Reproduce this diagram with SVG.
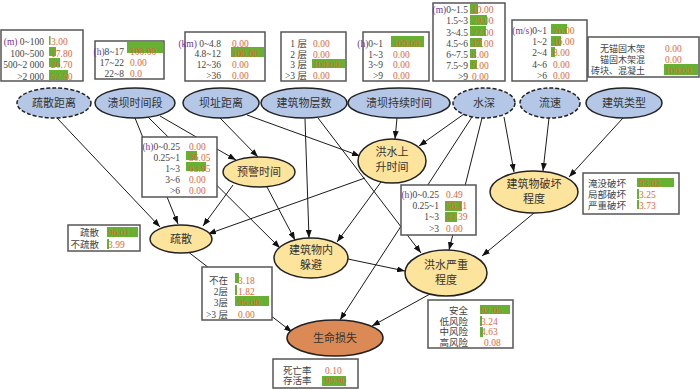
<svg xmlns="http://www.w3.org/2000/svg" width="700" height="390" viewBox="0 0 700 390">
<defs>
<marker id="arr" markerUnits="userSpaceOnUse" markerWidth="8" markerHeight="6" refX="8" refY="3" orient="auto"><path d="M0,0 L8,3 L0,6 z" fill="#111"/></marker>
<style>
.e line{stroke:#1a1a1a;stroke-width:1;marker-end:url(#arr)}
.bl{fill:#B4C7E7;stroke:#222;stroke-width:1.5}
.bd{fill:#B4C7E7;stroke:#222;stroke-width:1.5;stroke-dasharray:4 2}
.ye{fill:#FDE49C;stroke:#222;stroke-width:1.5}
.or{fill:#DC8A55;stroke:#222;stroke-width:1.5}
.nt{font-family:"Liberation Serif","Noto Sans CJK SC",serif;font-size:11px;fill:#333;text-anchor:middle}
.box{fill:#fff;stroke:#555;stroke-width:1.5}
.lb{font-family:"Liberation Serif","Noto Sans CJK SC",serif;font-size:9.5px;fill:#444}
.r{text-anchor:end}
.v{font-family:"Liberation Serif","Noto Sans CJK SC",serif;font-size:9.5px;fill:#E0683A}
.u{fill:#7030A0}
.g{fill:#66B032}
</style>
</defs>
<rect width="700" height="390" fill="#fff"/>
<g id="connectors" class="e">
<line x1="57" y1="118" x2="160" y2="227"/>
<line x1="135" y1="118" x2="178" y2="224"/>
<line x1="148" y1="117" x2="280" y2="248"/>
<line x1="160" y1="116" x2="236" y2="160"/>
<line x1="220" y1="118" x2="258" y2="157"/>
<line x1="247" y1="115" x2="360" y2="156"/>
<line x1="305" y1="119" x2="309" y2="238"/>
<line x1="318" y1="118" x2="421" y2="253"/>
<line x1="397" y1="118" x2="395" y2="139"/>
<line x1="464" y1="114" x2="419" y2="146"/>
<line x1="472" y1="117" x2="340" y2="320"/>
<line x1="482" y1="118" x2="449" y2="250"/>
<line x1="504" y1="117" x2="514" y2="172"/>
<line x1="549" y1="118" x2="543" y2="171"/>
<line x1="623" y1="118" x2="569" y2="177"/>
<line x1="365" y1="178" x2="208" y2="234"/>
<line x1="381" y1="182" x2="337" y2="242"/>
<line x1="233" y1="185" x2="203" y2="226"/>
<line x1="267" y1="187" x2="295" y2="240"/>
<line x1="534" y1="213" x2="482" y2="256"/>
<line x1="348" y1="259" x2="405" y2="271"/>
<line x1="187" y1="251" x2="292" y2="332"/>
<line x1="430" y1="294" x2="372" y2="326"/>
</g>
<g id="n_shusanjuli"><ellipse class="bd" cx="54" cy="103" rx="37" ry="15"/><text class="nt" x="54" y="107">疏散距离</text></g>
<g id="n_kuibashijianduan"><ellipse class="bl" cx="135" cy="103" rx="40" ry="15"/><text class="nt" x="135" y="107">溃坝时间段</text></g>
<g id="n_bazhijuli"><ellipse class="bl" cx="221" cy="103" rx="38" ry="15"/><text class="nt" x="221" y="107">坝址距离</text></g>
<g id="n_jianzhuwucengshu"><ellipse class="bl" cx="304" cy="103" rx="43" ry="15"/><text class="nt" x="304" y="107">建筑物层数</text></g>
<g id="n_kuibachixushijian"><ellipse class="bl" cx="399" cy="103" rx="51" ry="15"/><text class="nt" x="399" y="107">溃坝持续时间</text></g>
<g id="n_shuishen"><ellipse class="bd" cx="484" cy="103" rx="31" ry="15"/><text class="nt" x="484" y="107">水深</text></g>
<g id="n_liusu"><ellipse class="bd" cx="550" cy="103" rx="30" ry="15"/><text class="nt" x="550" y="107">流速</text></g>
<g id="n_jianzhuleixing"><ellipse class="bl" cx="624" cy="103" rx="38" ry="15"/><text class="nt" x="624" y="107">建筑类型</text></g>
<g id="n_yujingshijian"><ellipse class="ye" cx="259" cy="172" rx="36" ry="15"/><text class="nt" x="259" y="176">预警时间</text></g>
<g id="n_hongshuishangsheng"><ellipse class="ye" cx="392" cy="161" rx="34" ry="22"/><text class="nt" x="392" y="156">洪水上</text><text class="nt" x="392" y="171">升时间</text></g>
<g id="n_pohuai"><ellipse class="ye" cx="534" cy="192" rx="44" ry="21"/><text class="nt" x="534" y="188">建筑物破坏</text><text class="nt" x="534" y="203">程度</text></g>
<g id="n_shusan"><ellipse class="ye" cx="181" cy="239" rx="31" ry="14"/><text class="nt" x="181" y="243">疏散</text></g>
<g id="n_duobi"><ellipse class="ye" cx="311" cy="258" rx="37" ry="20"/><text class="nt" x="311" y="254">建筑物内</text><text class="nt" x="311" y="269">躲避</text></g>
<g id="n_yanzhong"><ellipse class="ye" cx="446" cy="273" rx="41" ry="23"/><text class="nt" x="446" y="269">洪水严重</text><text class="nt" x="446" y="284">程度</text></g>
<g id="n_shengming"><ellipse class="or" cx="335" cy="338" rx="48" ry="18"/><text class="nt" x="335" y="342">生命损失</text></g>
<g id="t_shusanjuli"><rect class="box" x="1" y="30" width="82" height="51"/>
<rect class="g" x="49" y="36" width="1.5" height="9"/><rect class="g" x="49" y="47" width="7" height="9"/><rect class="g" x="49" y="58" width="11" height="9"/><rect class="g" x="49" y="70" width="19" height="10"/>
<text class="lb r" x="44" y="45"><tspan class="u">(m)</tspan> 0~100</text><text class="lb r" x="44" y="56.5">100~500</text><text class="lb r" x="44" y="68">500~2 000</text><text class="lb r" x="44" y="79.5">&gt;2 000</text>
<text class="v" x="51" y="45">3.00</text><text class="v" x="51" y="56.5">17.80</text><text class="v" x="51" y="68">26.70</text><text class="v" x="51" y="79.5">52.50</text></g>
<g id="t_kuibashijianduan"><rect class="box" x="95" y="41" width="69" height="38"/>
<rect class="g" x="127" y="42" width="36" height="11"/>
<text class="lb r" x="124" y="55"><tspan class="u">(h)</tspan>8~17</text><text class="lb r" x="124" y="66">17~22</text><text class="lb r" x="124" y="77">22~8</text>
<text class="v" x="130" y="55">100.00</text><text class="v" x="130" y="66">0.00</text><text class="v" x="130" y="77">0.0</text></g>
<g id="t_bazhijuli"><rect class="box" x="185" y="32" width="80" height="49"/>
<rect class="g" x="231" y="47" width="33" height="10"/>
<text class="lb r" x="221" y="46.5"><tspan class="u">(km)</tspan> 0~4.8</text><text class="lb r" x="221" y="57">4.8~12</text><text class="lb r" x="221" y="67.5">12~36</text><text class="lb r" x="221" y="78.5">&gt;36</text>
<text class="v" x="232" y="46.5">0.00</text><text class="v" x="232" y="57">100.00</text><text class="v" x="232" y="67.5">0.00</text><text class="v" x="232" y="78.5">0.00</text></g>
<g id="t_cengshu"><rect class="box" x="281" y="32" width="65" height="49"/>
<rect class="g" x="312" y="59" width="33" height="9"/>
<text class="lb r" x="307" y="46.5">1 层</text><text class="lb r" x="307" y="57.5">2 层</text><text class="lb r" x="307" y="68">3 层</text><text class="lb r" x="307" y="78.5">&gt;3 层</text>
<text class="v" x="313" y="46.5">0.00</text><text class="v" x="313" y="57.5">0.00</text><text class="v" x="313" y="68">100.00</text><text class="v" x="313" y="78.5">0.00</text></g>
<g id="t_chixushijian"><rect class="box" x="363" y="32" width="66" height="49"/>
<rect class="g" x="391" y="36" width="33" height="11"/>
<text class="lb r" x="383" y="46.5"><tspan class="u">(h)</tspan>0~1</text><text class="lb r" x="383" y="57.5">1~3</text><text class="lb r" x="383" y="68">3~9</text><text class="lb r" x="383" y="78.5">&gt;9</text>
<text class="v" x="393" y="46.5">100.00</text><text class="v" x="393" y="57.5">0.00</text><text class="v" x="393" y="68">0.00</text><text class="v" x="393" y="78.5">0.00</text></g>
<g id="t_shuishen"><rect class="box" x="433" y="3" width="72" height="78"/>
<rect class="g" x="470" y="4" width="8" height="10"/><rect class="g" x="470" y="15" width="17" height="10"/><rect class="g" x="470" y="26" width="16" height="10"/><rect class="g" x="470" y="38" width="12" height="9"/><rect class="g" x="470" y="49" width="6" height="9"/><rect class="g" x="470" y="60" width="7" height="9"/>
<text class="lb r" x="468" y="12.5"><tspan class="u">(m)</tspan>0~1.5</text><text class="lb r" x="468" y="24">1.5~3</text><text class="lb r" x="468" y="35.5">3~4.5</text><text class="lb r" x="468" y="46.5">4.5~6</text><text class="lb r" x="468" y="57.5">6~7.5</text><text class="lb r" x="468" y="69">7.5~9</text><text class="lb r" x="468" y="80">&gt;9</text>
<text class="v" x="472" y="12.5">10.00</text><text class="v" x="472" y="24">29.00</text><text class="v" x="472" y="35.5">27.00</text><text class="v" x="472" y="46.5">17.00</text><text class="v" x="472" y="57.5">8.00</text><text class="v" x="472" y="69">9.00</text><text class="v" x="472" y="80">0.00</text></g>
<g id="t_liusu"><rect class="box" x="512" y="20" width="75" height="61"/>
<rect class="g" x="551" y="24" width="16" height="10"/><rect class="g" x="551" y="36" width="10" height="10"/><rect class="g" x="551" y="47" width="4" height="10"/>
<text class="lb r" x="547" y="33.5"><tspan class="u">(m/s)</tspan>0~1</text><text class="lb r" x="547" y="45">1~2</text><text class="lb r" x="547" y="56">2~4</text><text class="lb r" x="547" y="67.5">4~6</text><text class="lb r" x="547" y="79">&gt;6</text>
<text class="v" x="553" y="33.5">76.00</text><text class="v" x="553" y="45">16.00</text><text class="v" x="553" y="56">8.00</text><text class="v" x="553" y="67.5">0.00</text><text class="v" x="553" y="79">0.00</text></g>
<g id="t_jianzhuleixing"><rect class="box" x="588" y="37" width="111" height="40"/>
<rect class="g" x="664" y="64" width="34" height="11"/>
<text class="lb r" x="645" y="51.5" style="font-size:9px">无锚固木架</text><text class="lb r" x="645" y="62.5" style="font-size:9px">锚固木架混</text><text class="lb r" x="645" y="73.5" style="font-size:9px">砖块、混凝土</text>
<text class="v" x="665" y="51.5">0.00</text><text class="v" x="665" y="62.5">0.00</text><text class="v" x="665" y="73.5">100.00</text></g>
<g id="t_yujingshijian"><rect class="box" x="142" y="137" width="75" height="60"/>
<rect class="g" x="186" y="151" width="11" height="9"/><rect class="g" x="186" y="162" width="20" height="9"/>
<text class="lb r" x="180" y="149.5"><tspan class="u">(h)</tspan>0~0.25</text><text class="lb r" x="180" y="160.5">0.25~1</text><text class="lb r" x="180" y="171.5">1~3</text><text class="lb r" x="180" y="182.5">3~6</text><text class="lb r" x="180" y="194">&gt;6</text>
<text class="v" x="189" y="149.5">0.00</text><text class="v" x="189" y="160.5">36.05</text><text class="v" x="189" y="171.5">63.95</text><text class="v" x="189" y="182.5">0.00</text><text class="v" x="189" y="194">0.00</text></g>
<g id="t_shangshengshijian"><rect class="box" x="401" y="185" width="75" height="50"/>
<rect class="g" x="445" y="201" width="17" height="10"/><rect class="g" x="445" y="212" width="12" height="10"/>
<text class="lb r" x="439" y="197.5"><tspan class="u">(h)</tspan>0~0.25</text><text class="lb r" x="439" y="208.5">0.25~1</text><text class="lb r" x="439" y="219.5">1~3</text><text class="lb r" x="439" y="231.5">&gt;3</text>
<text class="v" x="446" y="197.5">0.49</text><text class="v" x="446" y="208.5">56.11</text><text class="v" x="446" y="219.5">43.39</text><text class="v" x="446" y="231.5">0.00</text></g>
<g id="t_pohuai"><rect class="box" x="583" y="173" width="96" height="41"/>
<rect class="g" x="637" y="178" width="37" height="9"/><rect class="g" x="637" y="189" width="2" height="10"/><rect class="g" x="637" y="200" width="2" height="9"/>
<text class="lb" x="588" y="186.5">淹没破坏</text><text class="lb" x="588" y="197.5">局部破坏</text><text class="lb" x="588" y="208.5">严重破坏</text>
<text class="v" x="639" y="186.5">93.02</text><text class="v" x="639" y="197.5">3.25</text><text class="v" x="639" y="208.5">3.73</text></g>
<g id="t_shusan"><rect class="box" x="68" y="225" width="72" height="26"/>
<rect class="g" x="107" y="227" width="31" height="10"/><rect class="g" x="107" y="239" width="2" height="10"/>
<text class="lb r" x="99" y="235.5">疏散</text><text class="lb r" x="99" y="247.5">不疏散</text>
<text class="v" x="108" y="235.5">96.01</text><text class="v" x="108" y="247.5">3.99</text></g>
<g id="t_duobi"><rect class="box" x="202" y="267" width="70" height="53"/>
<rect class="g" x="235" y="273" width="4" height="10"/><rect class="g" x="235" y="285" width="2" height="10"/><rect class="g" x="235" y="296" width="34" height="10"/>
<text class="lb r" x="228" y="283.5">不在</text><text class="lb r" x="228" y="294.5">2层</text><text class="lb r" x="228" y="305.5">3层</text><text class="lb r" x="228" y="317.5">&gt;3 层</text>
<text class="v" x="238" y="283.5">3.18</text><text class="v" x="238" y="294.5">1.82</text><text class="v" x="238" y="305.5">95.00</text><text class="v" x="238" y="317.5">0.00</text></g>
<g id="t_yanzhong"><rect class="box" x="428" y="300" width="85" height="48"/>
<rect class="g" x="480" y="305" width="30" height="9"/><rect class="g" x="480" y="316" width="2" height="10"/><rect class="g" x="480" y="327" width="3" height="10"/>
<text class="lb r" x="468" y="313.5">安全</text><text class="lb r" x="468" y="324.5">低风险</text><text class="lb r" x="468" y="334.5">中风险</text><text class="lb r" x="468" y="345.5">高风险</text>
<text class="v" x="481" y="313.5">92.05</text><text class="v" x="481" y="324.5">3.24</text><text class="v" x="481" y="334.5">4.63</text><text class="v" x="484" y="345.5">0.08</text></g>
<g id="t_shengming"><rect class="box" x="273" y="359" width="85" height="29"/>
<rect class="g" x="322" y="376" width="24" height="10"/>
<text class="lb" x="283" y="373.5">死亡率</text><text class="lb" x="283" y="384">存活率</text>
<text class="v" x="325" y="373.5">0.10</text><text class="v" x="325" y="384">99.90</text></g>
</svg>
